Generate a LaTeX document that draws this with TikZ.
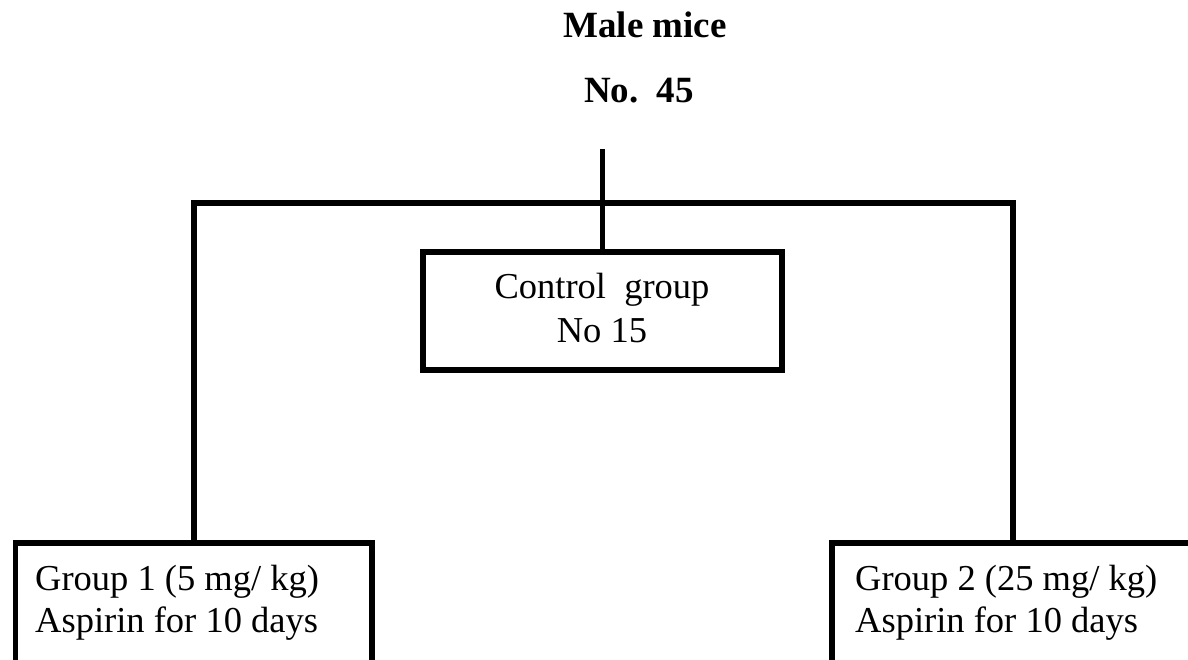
\documentclass[tikz,border=0pt]{standalone}
\usepackage{fontspec}
\setmainfont{Liberation Serif}
\begin{document}
\begin{tikzpicture}[x=1pt,y=-1pt,
  boxstyle/.style={draw=black, line width=5.5pt, rectangle, inner sep=0pt},
  txt/.style={anchor=base, inner sep=0pt, font=\fontsize{36.5}{44}\selectfont},
  txtl/.style={anchor=base west, inner sep=0pt, font=\fontsize{36.5}{44}\selectfont},
  ttl/.style={anchor=base, inner sep=0pt, font=\fontsize{37}{44}\selectfont\bfseries},
  conn/.style={line width=5.5pt, black}]
\useasboundingbox (0,0) rectangle (1188,659);
\clip (0,0) rectangle (1188,659);
% title
\node[ttl] (t1) at (645,37) {Male mice};
\node[ttl] (t2) at (639,102) {No.\ \ 45};
% boxes
\node[boxstyle, minimum width=359pt, minimum height=118pt] (ctrl) at (602.5,311) {};
\node[txt] (c1) at (602,298) {Control\ \ group};
\node[txt] (c2) at (602,342) {No 15};
\node[boxstyle, minimum width=356.5pt, minimum height=160pt] (g1) at (193.75,623) {};
\node[txtl] (g1a) at (35,590) {Group 1 (5 mg/ kg)};
\node[txtl] (g1b) at (35,632) {Aspirin for 10 days};
\node[boxstyle, minimum width=362pt, minimum height=160pt] (g2) at (1013,623) {};
\node[txtl] (g2a) at (855,590) {Group 2 (25 mg/ kg)};
\node[txtl] (g2b) at (855,632) {Aspirin for 10 days};
% connectors
\coordinate (top) at (602.5,149);
\coordinate (bus) at (602.5,203);
\draw[line width=5pt] (top) -- (ctrl.north);
\draw[conn] (g1.north) -- (g1.north |- bus) -- (g2.north |- bus) -- (g2.north);
\end{tikzpicture}
\end{document}
